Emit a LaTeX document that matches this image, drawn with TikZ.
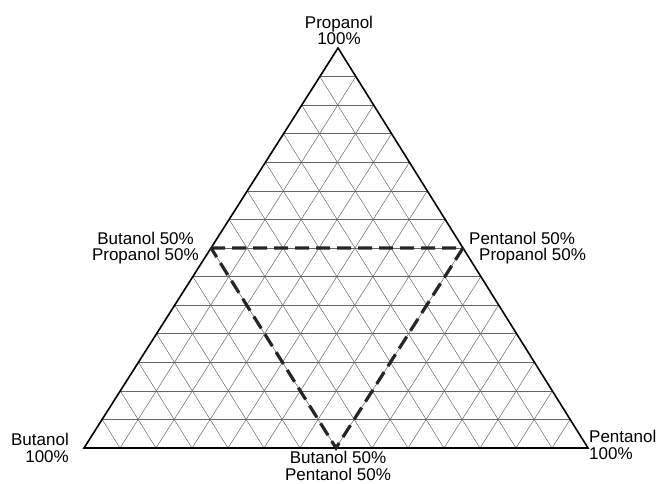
\documentclass[tikz,border=0pt]{standalone}
\usepackage{fontspec}
\setmainfont{Liberation Sans}
\usetikzlibrary{calc}

\begin{document}
\begin{tikzpicture}[
    x=1pt, y=-1pt,
    side/.style={line width=1.6pt, black, line join=miter},
    gridln/.style={line width=0.5pt, black!60},
    mix/.style={line width=3.2pt, black!85, dash pattern=on 14pt off 7pt},
    lbl/.style={font=\fontsize{17}{16.5}\selectfont, inner sep=0pt}
]
\useasboundingbox (0,0) rectangle (658,484);

% corners of the diagram
\coordinate (Bu) at (84,448);
\coordinate (Pe) at (588,448);
\coordinate (Pr) at (338,48);

% fine grid, 14 steps
\foreach \i in {1,...,13} {
    \draw[gridln] ($(Bu)!\i/14!(Pr)$) -- ($(Pe)!\i/14!(Pr)$);
    \draw[gridln] ($(Bu)!\i/14!(Pe)$) -- ($(Pr)!\i/14!(Pe)$);
    \draw[gridln] ($(Pe)!\i/14!(Bu)$) -- ($(Pr)!\i/14!(Bu)$);
}

\draw[side] (Bu) -- (Pe) -- (Pr) -- cycle;

% 50/50 mixtures
\coordinate (BuPr) at ($(Bu)!0.5!(Pr)$);
\coordinate (PePr) at ($(Pe)!0.5!(Pr)$);
\coordinate (BuPe) at ($(Bu)!0.5!(Pe)$);
\draw[mix] (BuPr) -- (PePr) -- (BuPe) -- cycle;

\node[lbl, anchor=south, align=center] (tPr) at (339,45) {Propanol\\100\%};
\node[lbl, anchor=east, align=right] (tBu) at (69,448) {Butanol\\100\%};
\node[lbl, anchor=west, align=left] (tPe) at (589,445) {Pentanol\\100\%};
\node[lbl, anchor=east, align=right] (tBuPr) at (199,248) {Butanol 50\%\hspace*{5pt}\\Propanol 50\%};
\node[lbl, anchor=west, align=left] (tPePr) at (469,248) {Pentanol 50\%\\\hspace*{10pt}Propanol 50\%};
\node[lbl, anchor=north, align=center] (tBuPe) at (338,451) {Butanol 50\%\\Pentanol 50\%};
\end{tikzpicture}
\end{document}
